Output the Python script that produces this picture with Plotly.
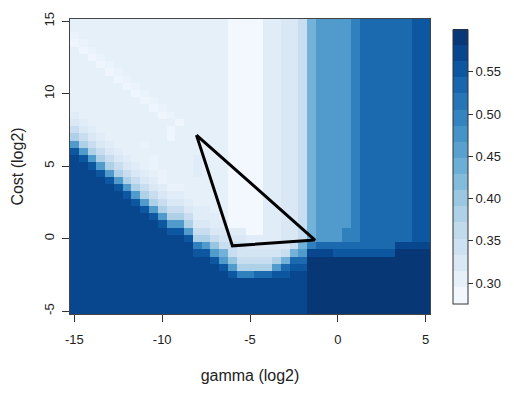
import numpy as np
import plotly.graph_objects as go
from plotly.colors import sample_colorscale

# ---- data ----
GAMMA = np.arange(-15, 5.01, 0.5)      # log2 gamma grid (41 columns)
COST = np.arange(-5, 15.01, 0.5)       # log2 cost grid (41 rows)

# level codes -> error value
LEVELS = {
    "a": 0.283, "b": 0.290, "c": 0.297, "d": 0.305, "e": 0.313,
    "f": 0.323, "g": 0.335, "h": 0.352, "i": 0.380, "j": 0.405,
    "k": 0.432, "l": 0.465, "m": 0.500, "n": 0.528, "o": 0.552,
    "p": 0.572, "q": 0.592,
}

# grid rows, from cost 15 (top) down to cost -5 (bottom); columns gamma -15 .. 5
ROWS_TOP_DOWN = [
    "dddddddddddddddddd" "aaaaeeffhkllllmnnnnnnoo",  # 15
    "dddddddddddddddddd" "aaaaeeffhkllllmnnnnnnoo",  # 14.5
    "cddddddddddddddddd" "aaaaeeffhkllllmnnnnnnoo",  # 14
    "bcdddddddddddddddd" "aaaaeeffhkllllmnnnnnnoo",  # 13.5
    "dbcddddddddddddddd" "aaaaeeffhkllllmnnnnnnoo",  # 13
    "ddbcdddddddddddddd" "aaaaeeffhkllllmnnnnnnoo",  # 12.5
    "dddbcddddddddddddd" "aaaaeeffhkllllmnnnnnnoo",  # 12
    "ddddbcdddddddddddd" "aaaaeeffhkllllmnnnnnnoo",  # 11.5
    "dddddbcddddddddddd" "aaaaeeffhkllllmnnnnnnoo",  # 11
    "ddddddbcdddddddddd" "aaaaeeffhkllllmnnnnnnoo",  # 10.5
    "dddddddbcddddddddd" "aaaaeeffhkllllmnnnnnnoo",  # 10
    "ddddddddbcdddddddd" "aaaaeeffhkllllmnnnnnnoo",  # 9.5
    "dddddddddbcddddddd" "aaaaeeffhkllllmnnnnnnoo",  # 9
    "edddddddddbcdddddd" "aaaaeeffhkllllmnnnnnnoo",  # 8.5
    "feddddddddddbddddd" "aaaaeeffhkllllmnnnnnnoo",  # 8
    "hfeddddddddbdddddd" "aaaaeeffhkllllmnnnnnnoo",  # 7.5
    "ihfedddddddbdddddd" "aaaaeeffhkllllmnnnnnnoo",  # 7
    "lihfedddcddddddddd" "aaaaeeffhkllllmnnnnnnoo",  # 6.5
    "olihfedddddddddddd" "aaaaeeffhkllllmnnnnnnoo",  # 6
    "polihfeddcddddeddd" "aaaaeeffhkllllmnnnnnnoo",  # 5.5
    "ppolihfedcddddeddd" "aaaaeeffhkllllmnnnnnnoo",  # 5
    "pppolihfedcdddeddd" "aaaaeeffhkllllmnnnnnnoo",  # 4.5
    "ppppolihfecddddddd" "aaaaeeffhkllllmnnnnnnoo",  # 4
    "pppppolihfeccddddd" "aaaaeeffhkllllmnnnnnnoo",  # 3.5
    "ppppppolihfeeddddd" "aaaaeeffhkllllmnnnnnnoo",  # 3
    "pppppppolihffedddd" "aaaaeeffhkllllmnnnnnnoo",  # 2.5
    "ppppppppolihhfeedd" "aaaaeeffhkllllmnnnnnnoo",  # 2
    "pppppppppoliiheeed" "aaaaeeffhkllllmnnnnnnoo",  # 1.5
    "ppppppppppolliffee" "aaaaeeffhkllllmnnnnnnoo",  # 1
    "pppppppppppoolhhff" "eeaaeeffhklllmmnnnnnnoo",  # 0.5
    "pppppppppppppoiihg" "ffeeeeffhklllmmnnnnnnoo",  # 0
    "ppppppppppppppmljh" "hgfffffhk" "mnnnnnnnnnpppp",  # -0.5
    "ppppppppppppppoolk" "hggggghkl" "pppoooooooqqqq",  # -1
    "ppppppppppppppppol" "jhhhhiknn" "qqqqqqqqqqqqqq",  # -1.5
    "pppppppppppppppppo" "liiiilnoo" "qqqqqqqqqqqqqq",  # -2
    "pppppppppppppppppp" "ommnnoopp" "qqqqqqqqqqqqqq",  # -2.5
    "pppppppppppppppppp" "ppppppppp" "qqqqqqqqqqqqqq",  # -3
    "pppppppppppppppppp" "ppppppppp" "qqqqqqqqqqqqqq",  # -3.5
    "pppppppppppppppppp" "ppppppppp" "qqqqqqqqqqqqqq",  # -4
    "pppppppppppppppppp" "ppppppppp" "qqqqqqqqqqqqqq",  # -4.5
    "pppppppppppppppppp" "ppppppppp" "qqqqqqqqqqqqqq",  # -5
]
for r in ROWS_TOP_DOWN:
    assert len(r) == 41, (len(r), r)
assert len(ROWS_TOP_DOWN) == 41

Z = [[LEVELS[ch] for ch in row] for row in reversed(ROWS_TOP_DOWN)]

# triangle overlay (gamma, cost)
TRI_GAMMA = [-8.05, -6.0, -1.3, -8.05]
TRI_COST = [7.14, -0.5, -0.1, 7.14]

X_TICKS = [-15, -10, -5, 0, 5]
Y_TICKS = [-5, 0, 5, 10, 15]
CB_TICKS = [0.30, 0.35, 0.40, 0.45, 0.50, 0.55]

ZMIN, ZMAX = 0.276, 0.600
BLUES = ["#f7fbff", "#deebf7", "#c6dbef", "#9ecae1", "#6baed6",
         "#4292c6", "#2171b5", "#08519c", "#08306b"]
cont_scale = [[i / 8, c] for i, c in enumerate(BLUES)]

N_BANDS = 17
stepped = []
for k in range(N_BANDS):
    col = sample_colorscale(cont_scale, (k + 0.5) / N_BANDS)[0]
    stepped.append([k / N_BANDS, col])
    stepped.append([(k + 1) / N_BANDS, col])

FONT = "Liberation Sans, Arial, sans-serif"
TXT = "#222222"

fig = go.Figure()
fig.add_trace(go.Heatmap(
    x=GAMMA, y=COST, z=Z, colorscale=cont_scale, zmin=ZMIN, zmax=ZMAX,
    showscale=False, hoverinfo="skip",
))
fig.add_trace(go.Scatter(
    x=TRI_GAMMA, y=TRI_COST, mode="lines",
    line=dict(color="black", width=3), showlegend=False, hoverinfo="skip",
))
fig.add_trace(go.Scatter(
    x=[None], y=[None], mode="markers", showlegend=False, hoverinfo="skip",
    marker=dict(
        color=[ZMIN], cmin=ZMIN, cmax=ZMAX, colorscale=stepped, showscale=True,
        colorbar=dict(
            x=1.064, xanchor="left", xpad=0, y=0.5, yanchor="middle", ypad=0,
            len=274, lenmode="pixels", thickness=15, thicknessmode="pixels",
            outlinewidth=1, outlinecolor="#333333",
            ticks="outside", ticklen=5, tickcolor="#333333",
            tickvals=CB_TICKS, ticktext=[f"{v:.2f}" for v in CB_TICKS],
            tickfont=dict(family=FONT, size=13, color=TXT),
        ),
    ),
))

fig.update_layout(
    width=514, height=394,
    margin=dict(l=70, r=84, t=14, b=77),
    paper_bgcolor="white", plot_bgcolor="white",
    font=dict(family=FONT, size=13, color=TXT),
    showlegend=False,
)
fig.update_xaxes(
    range=[-15.25, 5.25], tickvals=X_TICKS, ticktext=[str(v) for v in X_TICKS],
    ticks="outside", ticklen=7, tickcolor="#333333", ticklabelstandoff=6,
    showgrid=False, zeroline=False, showline=True, mirror=True,
    linecolor="#444444",
    title=dict(text="gamma (log2)", standoff=24),
)
fig.update_yaxes(
    range=[-5.2, 15.15], tickvals=Y_TICKS, ticktext=[str(v) for v in Y_TICKS],
    tickangle=-90, ticks="outside", ticklen=7, tickcolor="#333333",
    ticklabelstandoff=3,
    showgrid=False, zeroline=False, showline=True, mirror=True,
    linecolor="#444444", title=dict(text="Cost (log2)", standoff=14),
)

fig.write_html("out.html")
